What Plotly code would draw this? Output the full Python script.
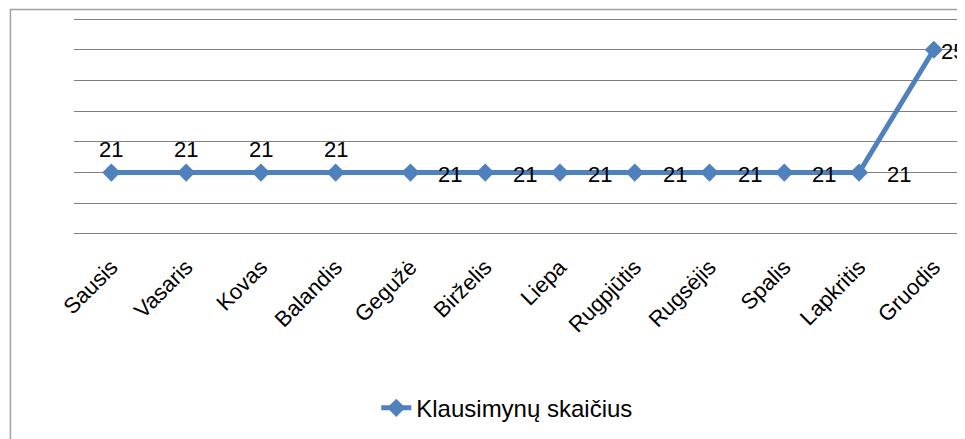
import plotly.graph_objects as go

months = ["Sausis", "Vasaris", "Kovas", "Balandis", "Gegužė", "Birželis",
          "Liepa", "Rugpjūtis", "Rugsėjis", "Spalis", "Lapkritis", "Gruodis"]
counts = [21, 21, 21, 21, 21, 21, 21, 21, 21, 21, 21, 25]
series_name = "Klausimynų skaičius"
# label placement per point
label_pos = ["above"] * 4 + ["right"] * 7 + ["right_near"]

# the page body has an 8px margin; figure coordinates are shifted accordingly
OFF = 8
W, H = 965 - OFF, 439 - OFF
UNIT = (234 - 19.5) / 7          # px per value unit in the window
PAD = 0.1                         # small range padding so edge gridlines render
T = 19.5 - PAD * UNIT - OFF
Bot = 234 + PAD * UNIT - OFF
B = H - Bot
CAT = 74.8
L = 111 - CAT / 2 - OFF
R = 0
pw, ph = W - L - R, H - T - B

FONT = "Liberation Sans"
BLUE = "#4F81BD"

fig = go.Figure()
fig.add_trace(go.Scatter(
    x=list(range(len(months))), y=counts, mode="lines+markers", name=series_name,
    line=dict(color=BLUE, width=5),
    marker=dict(symbol="diamond", size=14, color=BLUE),
))

for i, (m, v, p) in enumerate(zip(months, counts, label_pos)):
    if p == "above":
        xs, ys, xa = 0, 23, "center"
    elif p == "right":
        xs, ys, xa = 26, -2, "left"
    else:
        xs, ys, xa = 5, -2, "left"
    fig.add_annotation(x=i, y=v, text=str(v), showarrow=False, xshift=xs, yshift=ys,
                       xanchor=xa, yanchor="middle",
                       font=dict(family=FONT, size=22, color="black"))

# outer chart border (partially cropped in the original image)
fig.add_shape(type="rect", xref="paper", yref="paper",
              x0=(10 - OFF - L) / pw, x1=(W + 20 - L) / pw,
              y0=-(H + 20 - T - ph) / ph, y1=1 + (T - (10 - OFF)) / ph,
              line=dict(color="#A0A0A0", width=1.5), fillcolor="rgba(0,0,0,0)", layer="below")

fig.update_layout(
    width=W, height=H,
    margin=dict(l=L, r=R, t=T, b=B, pad=0, autoexpand=False),
    plot_bgcolor="white", paper_bgcolor="white",
    font=dict(family=FONT, size=20, color="black"),
    showlegend=True,
    legend=dict(orientation="h", x=(368 - L) / pw, xanchor="left",
                y=-(400 - T - ph) / ph, yanchor="middle",
                font=dict(family=FONT, size=24, color="black"),
                bgcolor="rgba(0,0,0,0)"),
    xaxis=dict(range=[-0.5, -0.5 + (965 - 111 + CAT / 2) / CAT], automargin=False,
               tickmode="array", tickvals=list(range(len(months))), ticktext=months,
               tickangle=-45, showgrid=False, zeroline=False, showline=False,
               ticks="", ticklabelstandoff=12,
               tickfont=dict(family=FONT, size=22, color="black")),
    yaxis=dict(range=[19 - PAD, 26 + PAD], dtick=1, tick0=19, showticklabels=False,
               showgrid=True, automargin=False,
               gridcolor="#7F7F7F", gridwidth=1.3, zeroline=False, showline=False, ticks=""),
)

fig.write_html("out.html")
